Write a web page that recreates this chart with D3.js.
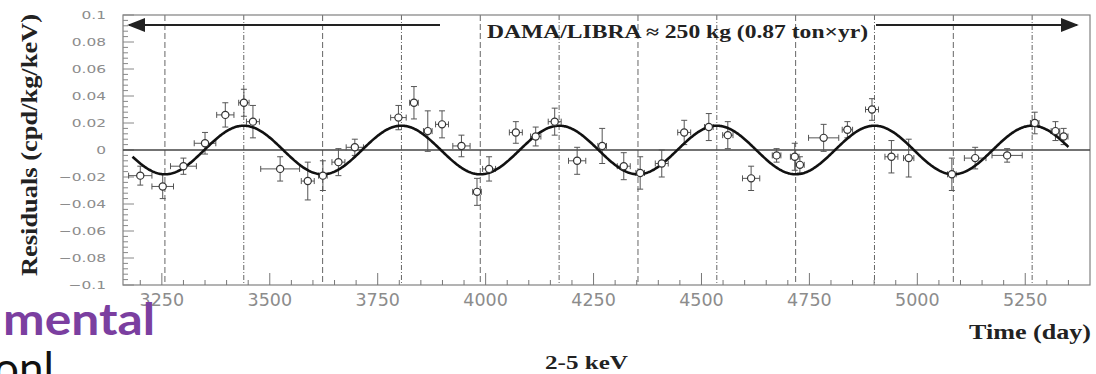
<!DOCTYPE html>
<html>
<head>
<meta charset="utf-8">
<script src="https://cdn.jsdelivr.net/npm/d3@7"></script>
<style>
  html, body { margin: 0; padding: 0; background: #fff; overflow: hidden; }
  svg { display: block; }
</style>
</head>
<body>
<svg id="chart" width="1096" height="374"></svg>
<script>
// Model-independent residual rate, 2-5 keV, DAMA/LIBRA (time in days)
const days      = [3200, 3252, 3300, 3350, 3397, 3440, 3461, 3524, 3588, 3623, 3659, 3697,
                   3798, 3834, 3866, 3899, 3944, 3980, 4008, 4070, 4116, 4160, 4212, 4270,
                   4320, 4358, 4408, 4460, 4517, 4561, 4615, 4674, 4716, 4728, 4783, 4838,
                   4895, 4940, 4980, 5080, 5134, 5208, 5272, 5320, 5339];
const residuals = [-0.019, -0.027, -0.012, 0.005, 0.026, 0.035, 0.021, -0.014, -0.023, -0.019, -0.009, 0.002,
                   0.024, 0.035, 0.014, 0.019, 0.003, -0.031, -0.014, 0.013, 0.010, 0.021, -0.008, 0.003,
                   -0.012, -0.017, -0.010, 0.013, 0.017, 0.011, -0.021, -0.004, -0.005, -0.011, 0.009, 0.015,
                   0.030, -0.005, -0.006, -0.018, -0.006, -0.004, 0.020, 0.014, 0.010];
const dayErr    = [27, 25, 30, 25, 20, 12, 15, 45, 15, 10, 15, 20,
                   18, 10, 10, 15, 20, 10, 15, 15, 12, 15, 20, 10,
                   15, 10, 15, 15, 10, 12, 20, 10, 10, 10, 35, 12,
                   15, 15, 12, 10, 25, 35, 10, 10, 10];
const resErr    = [0.007, 0.009, 0.006, 0.008, 0.009, 0.010, 0.012, 0.009, 0.014, 0.011, 0.010, 0.006,
                   0.009, 0.012, 0.015, 0.010, 0.008, 0.010, 0.009, 0.008, 0.007, 0.010, 0.010, 0.013,
                   0.010, 0.012, 0.010, 0.009, 0.010, 0.010, 0.009, 0.005, 0.010, 0.006, 0.010, 0.006,
                   0.008, 0.012, 0.014, 0.012, 0.008, 0.005, 0.008, 0.007, 0.006];

// Axis ticks
const yTicks      = [0.1, 0.08, 0.06, 0.04, 0.02, 0, -0.02, -0.04, -0.06, -0.08, -0.1];
const yTickLabels = ["0.1", "0.08", "0.06", "0.04", "0.02", "0", "\u22120.02", "\u22120.04", "\u22120.06", "\u22120.08", "\u22120.1"];
const xTicks      = [3250, 3500, 3750, 4000, 4250, 4500, 4750, 5000, 5250];
const xTickLabels = ["3250", "3500", "3750", "4000", "4250", "4500", "4750", "5000", "5250"];

// Expected maxima (2 June) and minima (2 December)
const peakDays   = [3439.75, 3805, 4170.25, 4535.5, 4900.75, 5266];
const troughDays = [3257.1, 3622.4, 3987.6, 4352.9, 4718.1, 5083.4];

// Fitted modulation A*cos(2pi/T (t - t0))
const fitAmplitude = 0.018;
const fitPeriod = 365.25;
const fitPhase = 152.5;
const fitRange = [3182, 5351];

const svg = d3.select("#chart");
const x = d3.scaleLinear().domain([3160, 5400]).range([123, 1090]);
const y = d3.scaleLinear().domain([-0.1, 0.1]).range([285, 15]);
const [x0, x1] = x.range();
const [yb, yt] = y.range();

const gray = "#8c8c8c";

// Vertical reference lines
svg.append("g").selectAll("line").data(troughDays).join("line")
  .attr("x1", d => x(d)).attr("x2", d => x(d))
  .attr("y1", yt).attr("y2", yb)
  .attr("stroke", "#666").attr("stroke-width", 1)
  .attr("stroke-dasharray", "6,3");
svg.append("g").selectAll("line").data(peakDays).join("line")
  .attr("x1", d => x(d)).attr("x2", d => x(d))
  .attr("y1", yt).attr("y2", yb)
  .attr("stroke", "#666").attr("stroke-width", 1)
  .attr("stroke-dasharray", "5,2,1,2");

// Frame
svg.append("rect")
  .attr("x", x0).attr("y", yt).attr("width", x1 - x0).attr("height", yb - yt)
  .attr("fill", "none").attr("stroke", "#808080").attr("stroke-width", 1.2);

// Minor/major ticks on the left side
const yMinor = d3.range(-0.1, 0.1001, 0.004);
svg.append("g").selectAll("line").data(yMinor).join("line")
  .attr("x1", x0).attr("x2", d => x0 + (Math.abs(Math.round(d / 0.004)) % 5 === 0 ? 11 : 5))
  .attr("y1", d => y(d)).attr("y2", d => y(d))
  .attr("stroke", "#888").attr("stroke-width", 1);

// Minor/major ticks on the bottom side
const xMinor = d3.range(3200, 5400, 50);
svg.append("g").selectAll("line").data(xMinor).join("line")
  .attr("x1", d => x(d)).attr("x2", d => x(d))
  .attr("y1", yb).attr("y2", d => yb - ((d - 3250) % 250 === 0 ? 12 : 5))
  .attr("stroke", "#777").attr("stroke-width", 1);

// Y tick labels
svg.append("g").selectAll("text").data(yTicks).join("text")
  .attr("transform", d => `translate(106,${y(d) + 4}) scale(1.4,1)`)
  .attr("text-anchor", "end")
  .attr("font-family", "DejaVu Sans")
  .attr("font-size", 11)
  .attr("fill", gray)
  .text((d, i) => yTickLabels[i]);

// X tick labels
svg.append("g").selectAll("text").data(xTicks).join("text")
  .attr("x", d => x(d)).attr("y", 306)
  .attr("text-anchor", "middle")
  .attr("font-family", "DejaVu Sans")
  .attr("font-size", 17.5)
  .attr("fill", gray)
  .text((d, i) => xTickLabels[i]);

// Zero line
svg.append("line")
  .attr("x1", x0).attr("x2", x1).attr("y1", y(0)).attr("y2", y(0))
  .attr("stroke", "#444").attr("stroke-width", 1.3);

// Error bars
const pts = days.map((d, i) => ({ d, v: residuals[i], ed: dayErr[i], ev: resErr[i] }));
const eb = svg.append("g").attr("stroke", "#555").attr("stroke-width", 1).attr("fill", "none");
pts.forEach(p => {
  const cx = x(p.d), cy = y(p.v);
  const xl = x(p.d - p.ed), xr = x(p.d + p.ed);
  const yu = y(p.v + p.ev), yd = y(p.v - p.ev);
  eb.append("line").attr("x1", xl).attr("x2", xr).attr("y1", cy).attr("y2", cy);
  eb.append("line").attr("x1", cx).attr("x2", cx).attr("y1", yu).attr("y2", yd);
  eb.append("line").attr("x1", cx - 3).attr("x2", cx + 3).attr("y1", yu).attr("y2", yu);
  eb.append("line").attr("x1", cx - 3).attr("x2", cx + 3).attr("y1", yd).attr("y2", yd);
  eb.append("line").attr("x1", xl).attr("x2", xl).attr("y1", cy - 3).attr("y2", cy + 3);
  eb.append("line").attr("x1", xr).attr("x2", xr).attr("y1", cy - 3).attr("y2", cy + 3);
});

// Fitted cosine
const curveDays = d3.range(fitRange[0], fitRange[1] + 1, 2);
const line = d3.line()
  .x(d => x(d))
  .y(d => y(fitAmplitude * Math.cos(2 * Math.PI / fitPeriod * (d - fitPhase))));
svg.append("path").datum(curveDays)
  .attr("d", line)
  .attr("fill", "none").attr("stroke", "#111").attr("stroke-width", 2.6);

// Markers
svg.append("g").selectAll("circle").data(pts).join("circle")
  .attr("cx", p => x(p.d)).attr("cy", p => y(p.v)).attr("r", 3.6)
  .attr("fill", "#fff").attr("stroke", "#333").attr("stroke-width", 1.2);

// Exposure arrows and label
svg.append("defs").html(
  '<marker id="ah" viewBox="0 0 10 10" refX="9" refY="5" markerWidth="9" markerHeight="9" orient="auto-start-reverse">' +
  '<path d="M0,1 L10,5 L0,9 z" fill="#222"/></marker>');
svg.append("line").attr("x1", 440).attr("x2", 129).attr("y1", 25).attr("y2", 25)
  .attr("stroke", "#222").attr("stroke-width", 2).attr("marker-end", "url(#ah)");
svg.append("line").attr("x1", 876).attr("x2", 1077).attr("y1", 25).attr("y2", 25)
  .attr("stroke", "#222").attr("stroke-width", 2).attr("marker-end", "url(#ah)");
svg.append("text")
  .attr("x", 487).attr("y", 38)
  .attr("font-family", "Liberation Serif").attr("font-weight", "bold").attr("font-size", 18)
  .attr("fill", "#222")
  .attr("textLength", 381).attr("lengthAdjust", "spacingAndGlyphs")
  .text("DAMA/LIBRA \u2248 250 kg  (0.87 ton\u00d7yr)");

// Axis titles
svg.append("text")
  .attr("transform", "translate(37,145) rotate(-90)")
  .attr("text-anchor", "middle")
  .attr("font-family", "Liberation Serif").attr("font-weight", "bold").attr("font-size", 24)
  .attr("fill", "#222")
  .attr("textLength", 262).attr("lengthAdjust", "spacingAndGlyphs")
  .text("Residuals (cpd/kg/keV)");
svg.append("text")
  .attr("x", 969).attr("y", 339)
  .attr("font-family", "Liberation Serif").attr("font-weight", "bold").attr("font-size", 22)
  .attr("fill", "#222")
  .attr("textLength", 122).attr("lengthAdjust", "spacingAndGlyphs")
  .text("Time (day)");
svg.append("text")
  .attr("x", 545).attr("y", 369)
  .attr("font-family", "Liberation Serif").attr("font-weight", "bold").attr("font-size", 19)
  .attr("fill", "#222")
  .attr("textLength", 83).attr("lengthAdjust", "spacingAndGlyphs")
  .text("2-5 keV");

// Slide text fragments at the left edge
svg.append("text")
  .attr("x", 3).attr("y", 335)
  .attr("font-family", "Lato").attr("font-weight", "bold").attr("font-size", 44)
  .attr("fill", "#7b3fa0")
  .attr("textLength", 152).attr("lengthAdjust", "spacingAndGlyphs")
  .text("mental");
svg.append("text")
  .attr("x", -6).attr("y", 384)
  .attr("font-family", "Lato").attr("font-size", 44)
  .attr("fill", "#111")
  .text("onl");
</script>
</body>
</html>
